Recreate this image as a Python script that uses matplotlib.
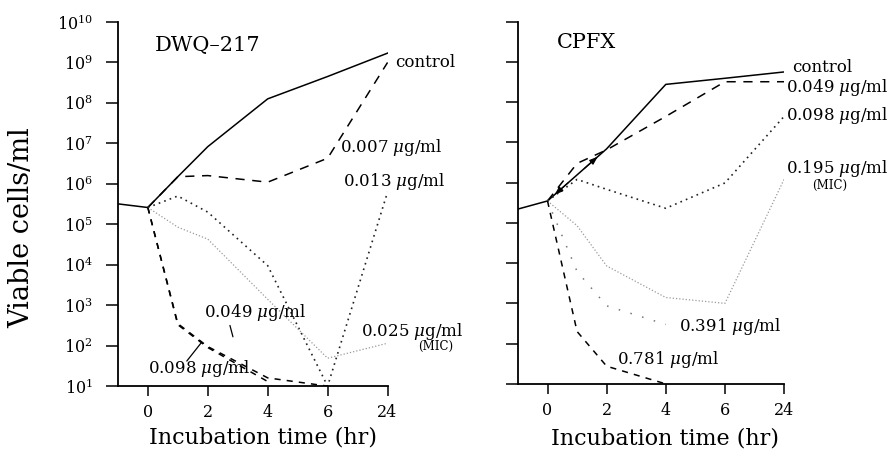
import numpy as np
import matplotlib

matplotlib.use('Agg')
from matplotlib import pyplot as plt
from matplotlib.ticker import FixedLocator, FuncFormatter, NullLocator

plt.rcParams['font.family'] = ['DejaVu Serif']
plt.rcParams['mathtext.fontset'] = 'dejavuserif'

# sampling times (hr); -1 is the inoculum before the drug was added
tick_hours = [0, 2, 4, 6, 24]
tick_labels = ['0', '2', '4', '6', '24']

# DWQ-217 panel, viable cells/ml
dwq_control_t = [-1, 0, 1, 2, 4, 6, 24]
dwq_control = [3.2e5, 2.6e5, 1.5e6, 8.3e6, 1.26e8, 4.5e8, 1.7e9]
dwq_007_t = [0, 1, 2, 4, 6, 24]
dwq_007 = [2.6e5, 1.5e6, 1.6e6, 1.1e6, 4.3e6, 1.0e9]
dwq_013_t = [0, 1, 2, 4, 6, 24]
dwq_013 = [2.6e5, 5.0e5, 2.0e5, 9.5e3, 1.0e1, 6.3e5]
dwq_025_t = [0, 1, 2, 4, 6, 24]
dwq_025 = [2.6e5, 8.5e4, 4.3e4, 1.4e3, 4.9e1, 1.15e2]
dwq_049_t = [0, 1, 2, 4, 6]
dwq_049 = [2.6e5, 3.5e2, 9.5e1, 1.6e1, 1.0e1]
dwq_098_t = [0, 1, 2, 4]
dwq_098 = [2.6e5, 3.3e2, 9.0e1, 1.3e1]

# CPFX panel, viable cells/ml
cpfx_control_t = [-1, 0, 2, 4, 6, 24]
cpfx_control = [2.2e5, 3.5e5, 6.9e6, 2.75e8, 3.9e8, 5.6e8]
cpfx_049_t = [0, 1, 2, 4, 6, 24]
cpfx_049 = [3.5e5, 3.0e6, 6.5e6, 4.4e7, 3.2e8, 3.2e8]
cpfx_098_t = [0, 1, 2, 4, 6, 24]
cpfx_098 = [3.5e5, 1.2e6, 6.8e5, 2.3e5, 9.8e5, 4.4e7]
cpfx_195_t = [0, 1, 2, 4, 6, 24]
cpfx_195 = [3.5e5, 8.5e4, 8.5e3, 1.4e3, 1.0e3, 1.2e6]
cpfx_391_t = [0, 1, 2, 4]
cpfx_391 = [3.5e5, 6.2e3, 8.7e2, 3.0e2]
cpfx_781_t = [0, 1, 2, 4]
cpfx_781 = [3.5e5, 2.0e2, 2.75e1, 1.0e1]


def hour_pos(hours):
    # 0..6 hr are evenly spaced, 24 hr gets the next slot
    return [4.0 if h == 24 else h / 2.0 for h in hours]


solid = dict(color='black', lw=1.1, ls='-')
long_dash = dict(color='black', lw=1.1, ls=(0, (6, 5)))
short_dash = dict(color='black', lw=1.1, ls=(0, (4, 4)))
dark_dots = dict(color='#222222', lw=1.2, ls=(0, (1, 2.5)))
light_dots = dict(color='#9a9a9a', lw=0.9, ls=(0, (1, 1.6)))
sparse_dots = dict(color='#777777', lw=1.1, ls=(0, (1, 7)))


def style_axes(ax, show_labels, xlabel_xy):
    ax.set_yscale('log')
    ax.set_ylim(10, 1e10)
    ax.set_xlim(-0.5, 4)
    for s in ['top', 'right']:
        ax.spines[s].set_visible(False)
    for s in ['left', 'bottom']:
        ax.spines[s].set_linewidth(1.3)
    ax.yaxis.set_major_locator(FixedLocator([10.0 ** k for k in range(1, 11)]))
    ax.yaxis.set_minor_locator(NullLocator())
    if show_labels:
        ax.yaxis.set_major_formatter(FuncFormatter(lambda v, p: r'$10^{%d}$' % round(np.log10(v))))
    else:
        ax.yaxis.set_major_formatter(FuncFormatter(lambda v, p: ''))
    ax.set_xticks(hour_pos(tick_hours))
    ax.set_xticklabels(tick_labels)
    ax.tick_params(axis='y', direction='out', length=9, width=1.1, labelsize=11.5, pad=9)
    ax.tick_params(axis='x', direction='out', length=7, width=1.1, labelsize=11.5, pad=6)
    ax.set_xlabel('Incubation time (hr)', fontsize=16)
    ax.xaxis.set_label_coords(*xlabel_xy)


fig = plt.figure(figsize=(8.93, 4.49), dpi=100)
ax1 = fig.add_axes([0.132, 0.140, 0.302, 0.811])
ax2 = fig.add_axes([0.580, 0.145, 0.298, 0.807])

# --- DWQ-217 ---
ax1.plot(hour_pos(dwq_control_t), dwq_control, **solid)
ax1.plot(hour_pos(dwq_007_t), dwq_007, **long_dash)
ax1.plot(hour_pos(dwq_013_t), dwq_013, **dark_dots)
ax1.plot(hour_pos(dwq_025_t), dwq_025, **light_dots)
ax1.plot(hour_pos(dwq_049_t), dwq_049, **short_dash)
ax1.plot(hour_pos(dwq_098_t), dwq_098, **short_dash)
style_axes(ax1, True, (0.537, -0.112))
ax1.set_ylabel('Viable cells/ml', fontsize=19.5)
ax1.yaxis.set_label_coords(-0.305, 0.434)

lbl = dict(fontsize=12, va='center', ha='left', clip_on=False)
ax1.text(0.12, 10 ** 9.43, 'DWQ\u2013217', fontsize=15, va='center')
ax1.text(4.13, 10 ** 8.99, 'control', **lbl)
ax1.text(3.2, 10 ** 6.91, r'0.007 $\mu$g/ml', **lbl)
ax1.text(3.25, 10 ** 6.07, r'0.013 $\mu$g/ml', **lbl)
ax1.text(3.55, 10 ** 2.36, r'0.025 $\mu$g/ml', **lbl)
ax1.text(4.8, 10 ** 1.98, '(MIC)', fontsize=8.5, ha='center', va='center', clip_on=False)
ax1.text(0.93, 10 ** 2.83, r'0.049 $\mu$g/ml', **lbl)
ax1.text(0.0, 10 ** 1.44, r'0.098 $\mu$g/ml', **lbl)

# leader lines from the two crowded labels to their curves
leader = dict(arrowstyle='-', lw=0.9, color='black', shrinkA=0, shrinkB=0)
ax1.annotate('', xy=(1.42, 10 ** 2.22), xytext=(1.37, 10 ** 2.50), arrowprops=leader)
ax1.annotate('', xy=(0.89, 10 ** 2.07), xytext=(0.65, 10 ** 1.62), arrowprops=leader)

# --- CPFX ---
ax2.plot(hour_pos(cpfx_control_t), cpfx_control, **solid)
ax2.plot(hour_pos(cpfx_049_t), cpfx_049, **long_dash)
ax2.plot(hour_pos(cpfx_098_t), cpfx_098, **dark_dots)
ax2.plot(hour_pos(cpfx_195_t), cpfx_195, **light_dots)
ax2.plot(hour_pos(cpfx_391_t), cpfx_391, **sparse_dots)
ax2.plot(hour_pos(cpfx_781_t), cpfx_781, **short_dash)
style_axes(ax2, False, (0.553, -0.119))

# small arrowheads riding on the control line between 0 and 2 hr
cx = hour_pos(cpfx_control_t)
cy = np.log10(cpfx_control)
seg_x = np.array([cx[1], cx[2]])
seg_y = np.array([cy[1], cy[2]])
for f0, f1 in [(0.35, 0.12), (0.62, 0.85)]:
    p0 = seg_x[0] + f0 * (seg_x[1] - seg_x[0]), 10 ** (seg_y[0] + f0 * (seg_y[1] - seg_y[0]))
    p1 = seg_x[0] + f1 * (seg_x[1] - seg_x[0]), 10 ** (seg_y[0] + f1 * (seg_y[1] - seg_y[0]))
    ax2.annotate('', xy=p1, xytext=p0,
                 arrowprops=dict(arrowstyle='-|>,head_length=0.5,head_width=0.18',
                                 lw=0.8, color='black', shrinkA=0, shrinkB=0))

ax2.text(0.16, 10 ** 9.47, 'CPFX', fontsize=15, va='center')
ax2.text(4.14, 10 ** 8.87, 'control', **lbl)
ax2.text(4.03, 10 ** 8.37, r'0.049 $\mu$g/ml', **lbl)
ax2.text(4.03, 10 ** 7.66, r'0.098 $\mu$g/ml', **lbl)
ax2.text(4.04, 10 ** 6.36, r'0.195 $\mu$g/ml', **lbl)
ax2.text(4.77, 10 ** 5.94, '(MIC)', fontsize=8.5, ha='center', va='center', clip_on=False)
ax2.text(2.22, 10 ** 2.42, r'0.391 $\mu$g/ml', **lbl)
ax2.text(1.17, 10 ** 1.60, r'0.781 $\mu$g/ml', **lbl)

fig.savefig('out.png', dpi=100)
